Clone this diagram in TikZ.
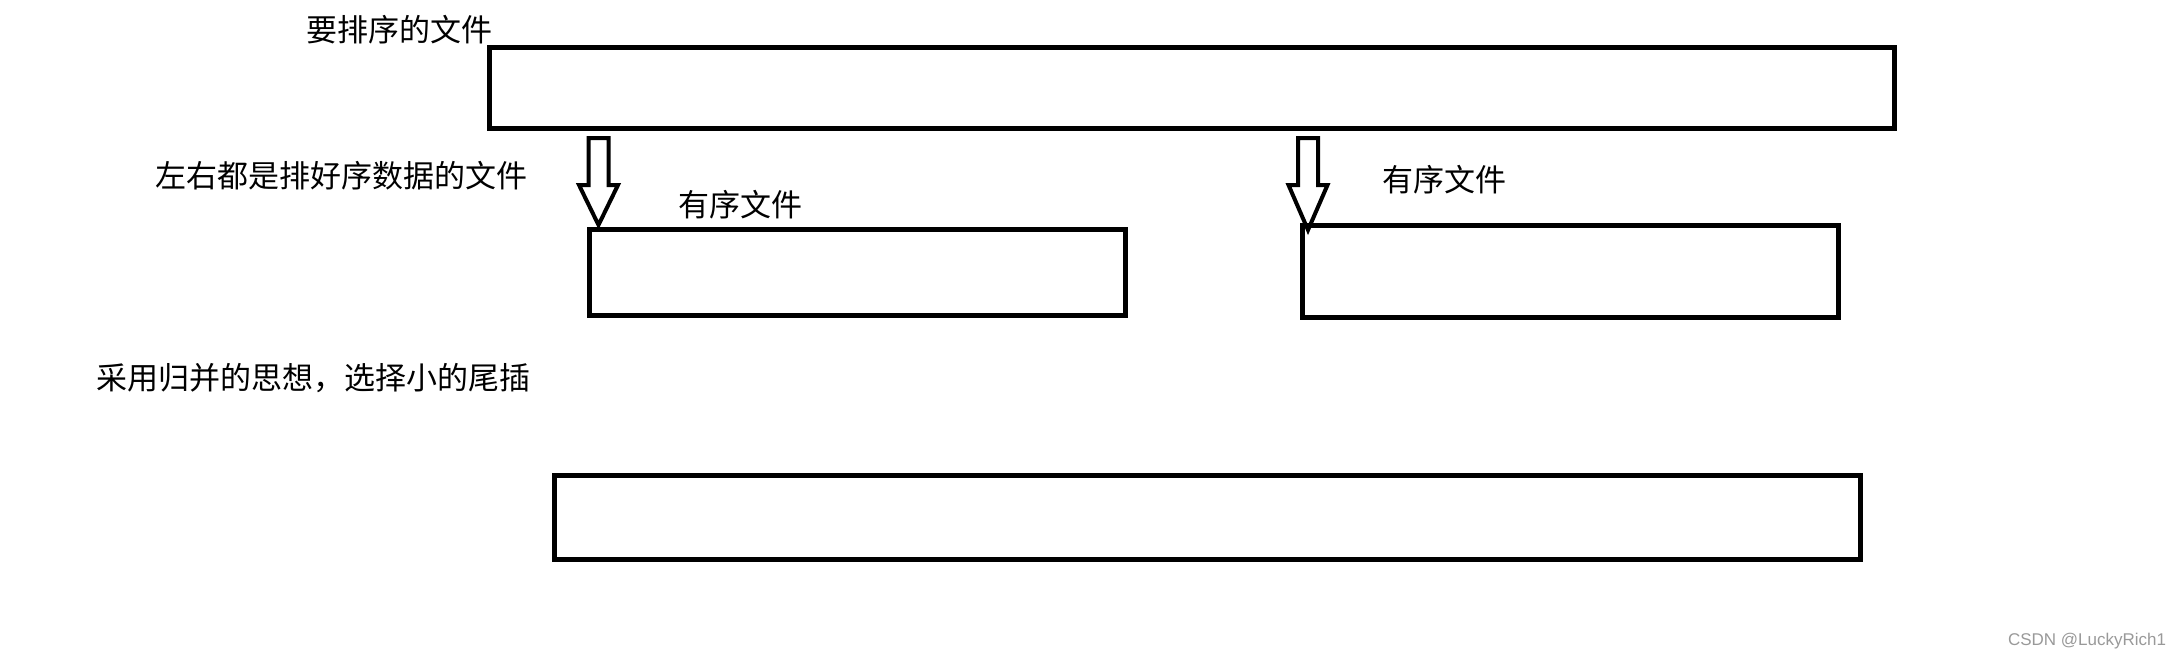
\documentclass[tikz,border=0pt]{standalone}
\usepackage{fontspec}
\setmainfont{Liberation Serif}
\setsansfont{Liberation Sans}
\newfontfamily\cjk{Noto Sans CJK SC}
\usetikzlibrary{positioning}

\tikzset{
  filebox/.style={draw, line width=2.5pt, inner sep=0pt},
  lbl/.style={font=\cjk\fontsize{15.5}{18}\selectfont, inner sep=0pt},
  blockarrow/.style={draw, line width=2pt, line join=miter}
}

\begin{document}
\begin{tikzpicture}[x=0.5pt,y=-0.5pt]
\useasboundingbox (0,0) rectangle (2172,658);
% boxes (sizes in pt, 1px = 0.5pt)
\node[filebox, minimum width=702.5pt, minimum height=40.25pt] (f) at (1192,88.25) {};
\node[filebox, minimum width=268.25pt, minimum height=43pt] (l) at (857.25,272.5) {};
\node[filebox, minimum width=268pt, minimum height=46pt] (r) at (1570.5,271.5) {};
\node[filebox, minimum width=653pt, minimum height=42pt] (m) at (1207.5,517.5) {};
% labels
\node[lbl] (ft) at (399,30) {要排序的文件};
\node[lbl] (lr) at (341.5,176) {左右都是排好序数据的文件};
\node[lbl] (lt) at (740,205) {有序文件};
\node[lbl] (rt) at (1444.5,180) {有序文件};
\node[lbl] (mt) at (313.5,378.5) {采用归并的思想，选择小的尾插};
\node[font=\sffamily\fontsize{8.5}{10}\selectfont, text=black!40, inner sep=0pt] (wm) at (2087,641) {CSDN @LuckyRich1};
% hollow arrows
\foreach \x/\t in {598.5/225, 1308/230}
  \draw[blockarrow] (\x-10,138) -- (\x+10,138) -- (\x+10,185) -- (\x+19.5,185)
    -- (\x,\t) -- (\x-19.5,185) -- (\x-10,185) -- cycle;
\end{tikzpicture}
\end{document}
